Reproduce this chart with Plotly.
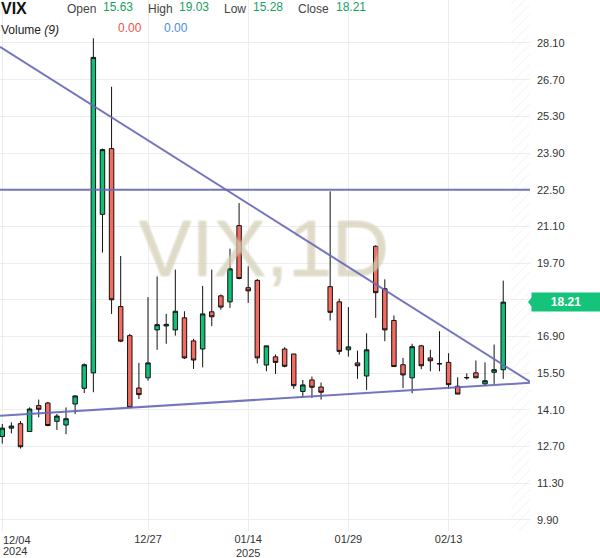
import plotly.graph_objects as go

# ---------------- data ----------------
dates = [
    "2024-12-04", "2024-12-05", "2024-12-06", "2024-12-09", "2024-12-10", "2024-12-11",
    "2024-12-12", "2024-12-13", "2024-12-16", "2024-12-17", "2024-12-18", "2024-12-19",
    "2024-12-20", "2024-12-23", "2024-12-24", "2024-12-26", "2024-12-27", "2024-12-30",
    "2024-12-31", "2025-01-02", "2025-01-03", "2025-01-06", "2025-01-07", "2025-01-08",
    "2025-01-09", "2025-01-10", "2025-01-13", "2025-01-14", "2025-01-15", "2025-01-16",
    "2025-01-17", "2025-01-20", "2025-01-21", "2025-01-22", "2025-01-23", "2025-01-24",
    "2025-01-27", "2025-01-28", "2025-01-29", "2025-01-30", "2025-01-31", "2025-02-03",
    "2025-02-04", "2025-02-05", "2025-02-06", "2025-02-07", "2025-02-10", "2025-02-11",
    "2025-02-12", "2025-02-13", "2025-02-14", "2025-02-17", "2025-02-18", "2025-02-19",
    "2025-02-20", "2025-02-21",
]
open_ = [13.08, 13.40, 13.57, 13.27, 14.26, 14.36, 13.66, 13.52, 14.32, 14.92, 15.51, 21.56,
         24.07, 18.04, 16.93, 14.93, 15.32, 17.15, 17.30, 17.15, 17.61, 16.73, 16.42, 17.84,
         18.45, 18.22, 21.13, 18.76, 19.04, 15.81, 16.12, 16.42, 16.23, 14.80, 15.24, 14.97,
         18.80, 18.22, 16.39, 15.89, 15.39, 20.34, 18.72, 17.51, 15.82, 15.32, 16.54, 16.08,
         15.85, 15.91, 15.00, 15.32, 15.51, 15.09, 15.53, 15.63]
high = [13.56, 13.62, 13.67, 14.19, 14.49, 14.40, 13.94, 14.19, 14.65, 15.87, 28.28, 24.07,
        26.43, 19.97, 17.00, 15.89, 18.40, 19.19, 17.76, 19.45, 17.86, 16.81, 18.83, 19.45,
        18.50, 20.25, 21.99, 19.58, 19.09, 16.54, 16.21, 16.49, 16.23, 15.24, 15.37, 15.14,
        22.44, 18.34, 18.02, 16.36, 17.02, 20.38, 19.08, 17.70, 16.08, 16.62, 16.58, 16.39,
        17.10, 16.26, 15.34, 15.49, 15.98, 15.91, 16.59, 19.03]
low = [12.81, 13.20, 12.62, 13.27, 13.81, 13.47, 13.33, 13.17, 13.94, 14.74, 14.77, 20.10,
       17.76, 16.68, 14.16, 14.51, 15.21, 16.39, 16.62, 16.93, 16.04, 15.66, 15.72, 17.29,
       17.92, 17.99, 19.08, 18.18, 15.87, 15.57, 15.47, 15.72, 14.90, 14.57, 14.55, 14.49,
       17.51, 16.21, 16.13, 15.28, 14.86, 17.61, 16.72, 15.75, 14.93, 14.73, 15.65, 15.57,
       15.57, 14.90, 14.70, 15.25, 15.32, 15.02, 15.09, 15.28]
close = [13.40, 13.48, 12.69, 14.13, 14.12, 13.50, 13.86, 13.76, 14.63, 15.82, 27.55, 24.03,
         18.30, 16.72, 14.19, 14.68, 15.89, 17.35, 17.36, 17.86, 16.08, 16.00, 17.76, 17.65,
         18.02, 19.48, 19.11, 18.64, 16.08, 16.54, 15.91, 15.76, 15.02, 15.05, 14.96, 14.77,
         17.82, 16.33, 16.50, 15.78, 16.39, 18.57, 17.15, 15.75, 15.43, 16.51, 15.78, 15.97,
         15.86, 15.06, 14.70, 15.33, 15.32, 15.21, 15.63, 18.21]
volume_vals = [0.00, 0.00]

tick_dates = ["2024-12-04", "2024-12-27", "2025-01-14", "2025-01-29", "2025-02-13"]
tick_text = ["12/04<br>2024", "12/27", "01/14<br>2025", "01/29", "02/13"]
y_ticks = [9.90, 11.30, 12.70, 14.10, 15.50, 16.90, 18.30, 19.70, 21.10, 22.50,
           23.90, 25.30, 26.70, 28.10]

# drawn trend lines (position along bar index, price)
resist_level = 22.50
desc_line_x = [-0.25, 57.94]
desc_line_y = [27.95, 15.17]
supp_line_x = [-0.25, 57.94]
supp_line_y = [13.87, 15.13]

# ---------------- layout constants ----------------
X_RANGE = [-0.25, 57.94]
Y_RANGE = [9.474, 29.741]
PLOT_W, PLOT_H = 530, 531
INC = "#0fc177"
DEC = "#f66b5f"
TREND = "rgba(104,104,186,0.92)"
FONT = "Arial, Liberation Sans, sans-serif"

n = len(dates)
idx = list(range(n))
tickvals = [dates.index(d) for d in tick_dates]

fig = go.Figure()

# hatched future area
fig.add_trace(go.Scatter(
    x=[55.85, X_RANGE[1] + 0.5, X_RANGE[1] + 0.5, 55.85, 55.85],
    y=[Y_RANGE[0] - 1, Y_RANGE[0] - 1, Y_RANGE[1] + 1, Y_RANGE[1] + 1, Y_RANGE[0] - 1],
    mode="lines", line=dict(width=0), fill="toself",
    fillcolor="rgba(0,0,0,0)",
    fillpattern=dict(shape="/", fgcolor="#dedede", bgcolor="rgba(0,0,0,0)", size=7, solidity=0.12),
    hoverinfo="skip", showlegend=False,
))

# watermark
fig.add_trace(go.Scatter(
    x=[28.73], y=[19.95], mode="text", text=["VIX,1D"],
    textfont=dict(family=FONT, size=79, color="rgba(222,214,190,0.38)",
                  shadow="1px 1px 0 rgba(205,196,168,0.45), -1px -1px 0 rgba(205,196,168,0.45), 1px -1px 0 rgba(205,196,168,0.45), -1px 1px 0 rgba(205,196,168,0.45)"),
    textposition="middle center", hoverinfo="skip", showlegend=False,
))

# trend lines
fig.add_trace(go.Scatter(x=[X_RANGE[0] - 1, X_RANGE[1] + 1], y=[resist_level, resist_level],
                         mode="lines", line=dict(color=TREND, width=2), hoverinfo="skip", showlegend=False))
fig.add_trace(go.Scatter(x=desc_line_x, y=desc_line_y, mode="lines",
                         line=dict(color=TREND, width=2), hoverinfo="skip", showlegend=False))
fig.add_trace(go.Scatter(x=supp_line_x, y=supp_line_y, mode="lines",
                         line=dict(color=TREND, width=2), hoverinfo="skip", showlegend=False))

# candles
fig.add_trace(go.Candlestick(
    x=idx, open=open_, high=high, low=low, close=close,
    increasing=dict(fillcolor=INC, line=dict(color="#111111", width=1)),
    decreasing=dict(fillcolor=DEC, line=dict(color="#111111", width=1)),
    whiskerwidth=0, showlegend=False, name="VIX",
))

def px_x(p):
    return p / PLOT_W

def px_y(p):
    return 1 - p / PLOT_H

ann = []
# header row 1
hdr_labels = [("Open", 66, open_[-1], 101.5), ("High", 146.5, high[-1], 178),
              ("Low", 223, low[-1], 252), ("Close", 297, close[-1], 335)]
ann.append(dict(x=px_x(-1), y=px_y(9), xref="paper", yref="paper", xanchor="left", yanchor="middle",
                text="<b>VIX</b>", showarrow=False, font=dict(family=FONT, size=16, color="#111111")))
for lab, lx, val, vx in hdr_labels:
    ann.append(dict(x=px_x(lx - 1), y=px_y(9), xref="paper", yref="paper", xanchor="left", yanchor="middle",
                    text=lab, showarrow=False, font=dict(family=FONT, size=12, color="#444444")))
    ann.append(dict(x=px_x(vx - 1), y=px_y(7), xref="paper", yref="paper", xanchor="left", yanchor="middle",
                    text=f"{val:.2f}", showarrow=False, font=dict(family=FONT, size=12, color="#17a160")))
# header row 2
ann.append(dict(x=px_x(-1), y=px_y(30), xref="paper", yref="paper", xanchor="left", yanchor="middle",
                text="Volume <i>(9)</i>", showarrow=False, font=dict(family=FONT, size=12, color="#222222")))
ann.append(dict(x=px_x(116), y=px_y(28), xref="paper", yref="paper", xanchor="left", yanchor="middle",
                text=f"{volume_vals[0]:.2f}", showarrow=False, font=dict(family=FONT, size=12, color="#e5534b")))
ann.append(dict(x=px_x(161.5), y=px_y(28), xref="paper", yref="paper", xanchor="left", yanchor="middle",
                text=f"{volume_vals[1]:.2f}", showarrow=False, font=dict(family=FONT, size=12, color="#4a8ee6")))
# first x tick label (left aligned at the chart edge), one annotation per line
for k, line_txt in enumerate(tick_text[0].split("<br>")):
    ann.append(dict(x=tickvals[0], y=px_y(540 + 11 * k), xref="x", yref="paper", xanchor="left",
                    yanchor="middle", xshift=-1, text=line_txt, showarrow=False,
                    font=dict(family=FONT, size=11, color="#333333")))
# last price tag
ann.append(dict(x=1, y=close[-1], xref="paper", yref="y", xanchor="left", yanchor="middle",
                xshift=1, text=f"<b>{close[-1]:.2f}</b>", showarrow=False,
                bgcolor="#14c47a", width=64, height=14, borderpad=2,
                font=dict(family=FONT, size=12, color="white")))

shapes = [dict(type="path", xref="paper", yref="y", xsizemode="pixel", ysizemode="pixel",
               xanchor=1, yanchor=close[-1], path="M 2,-5 L -2,0 L 2,5 Z",
               fillcolor="#14c47a", line=dict(width=0))]

xt_text = [""] + tick_text[1:]
# the tick label nearest the last price sits under the price tag
yt_text = ["" if abs(v - close[-1]) < 0.7 else f"{v:.2f}" for v in y_ticks]

fig.update_layout(
    width=600, height=558,
    margin=dict(l=0, r=70, t=0, b=27),
    paper_bgcolor="white", plot_bgcolor="white",
    showlegend=False,
    annotations=ann, shapes=shapes,
    xaxis=dict(range=X_RANGE, rangeslider=dict(visible=False), tickvals=tickvals, ticktext=xt_text,
               showgrid=True, gridcolor="#ededed", gridwidth=1, zeroline=False, showline=False,
               ticks="", ticklabelstandoff=0,
               tickfont=dict(family=FONT, size=11, color="#333333")),
    yaxis=dict(range=Y_RANGE, side="right", tickvals=y_ticks, ticktext=yt_text,
               showgrid=True, gridcolor="#ededed", gridwidth=1, zeroline=False, showline=False,
               ticks="", ticklabelstandoff=6, tickfont=dict(family=FONT, size=11, color="#333333")),
    hovermode=False,
)

fig.write_html("out.html", config={"displayModeBar": False},
               post_script="document.body.style.margin='0px';document.body.style.padding='0px';")
